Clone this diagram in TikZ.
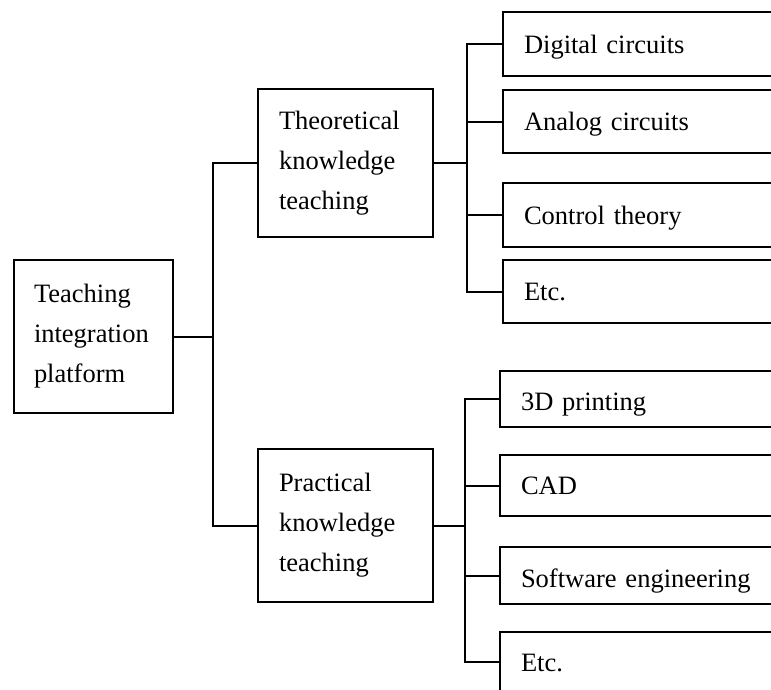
\documentclass[tikz,border=0pt]{standalone}
\usepackage{fontspec}
\setmainfont{Liberation Serif}
\begin{document}
\begin{tikzpicture}[x=1pt, y=-1pt,
  conn/.style={line width=2pt},
  box/.style={draw, line width=2pt, rectangle, anchor=west, align=left,
    font=\fontsize{26.5}{40}\selectfont, inner ysep=0pt},
  midbox/.style={box, minimum width=175pt, text width=133pt, inner xsep=21pt},
  leaf/.style={box, minimum width=342pt, text width=300pt, inner xsep=21pt,
    text height=20pt, text depth=2pt}]
\useasboundingbox (0,0) rectangle (771,689);
\clip (0,0) rectangle (771,689);

% root and the two branches
\node[box, minimum width=159pt, minimum height=153pt, text width=119pt, inner xsep=20pt]
  (root) at (13,336.5) {Teaching\\integration\\platform};
\node[midbox, minimum height=148pt] (theo) at (257,163) {Theoretical\\knowledge\\teaching};
\node[midbox, minimum height=153pt] (prac) at (257,525.5) {Practical\\knowledge\\teaching};

% theoretical topics
\node[leaf, minimum height=64pt] (t1) at (502,44) {Digital circuits};
\node[leaf, minimum height=63pt] (t2) at (502,121.5) {Analog circuits};
\node[leaf, minimum height=64pt] (t3) at (502,215) {Control theory};
\node[leaf, minimum height=63pt] (t4) at (502,291.5) {Etc.};

% practical topics
\node[leaf, minimum height=56pt, text height=23pt, text depth=0pt] (p1) at (499,399) {3D printing};
\node[leaf, minimum height=61pt] (p2) at (499,485.5) {CAD};
\node[leaf, minimum height=57pt, text height=23pt, text depth=0pt] (p3) at (499,575.5) {Software engineering};
\node[leaf, minimum height=60pt] (p4) at (499,662) {Etc.};

% bus lines
\coordinate (busL) at (213,336.5);
\coordinate (busT) at (467,163);
\coordinate (busP) at (465,525.5);

\draw[conn] (root.east) -- (busL);
\draw[conn] (theo.west) -| (busL) |- (prac.west);

\draw[line width=2.8pt] (theo.east) -- (busT);
\draw[conn] (t1.west) -| (busT) |- (t4.west);
\draw[conn] (t2.west) -- (t2.west -| busT);
\draw[conn] (t3.west) -- (t3.west -| busT);

\draw[conn] (prac.east) -- (busP);
\draw[conn] (p1.west) -| (busP) |- (p4.west);
\draw[conn] (p2.west) -- (p2.west -| busP);
\draw[conn] (p3.west) -- (p3.west -| busP);
\end{tikzpicture}
\end{document}
